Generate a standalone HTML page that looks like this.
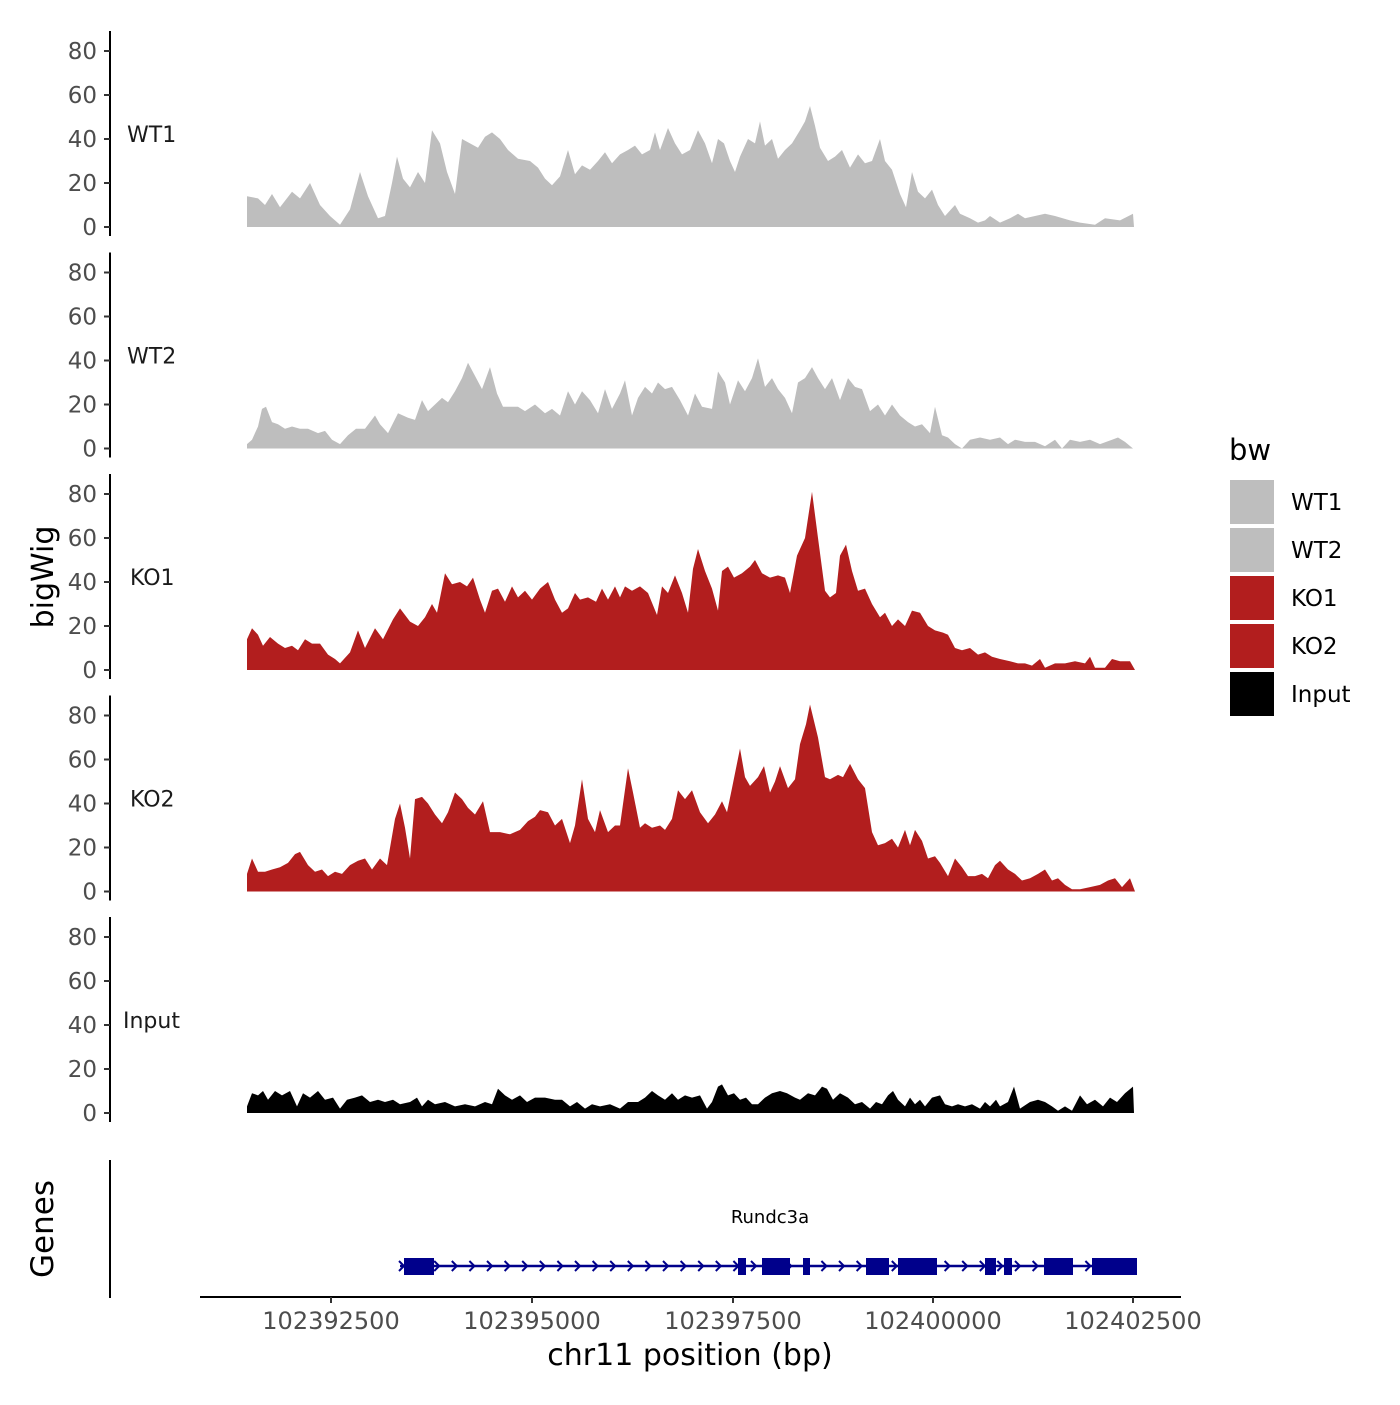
<!DOCTYPE html>
<html><head><meta charset="utf-8"><style>
body{margin:0;background:#fff}
svg text{font-family:"DejaVu Sans","Liberation Sans",sans-serif}
</style></head><body>
<svg id="s" width="1400" height="1400" xmlns="http://www.w3.org/2000/svg"></svg>
<script>
const s=document.getElementById('s');
let h='';
const data={
WT1:[[247,14],[258,13],[265,10],[272,15],[280,9],[292,16],[300,13],[310,20],[320,10],[330,5],[340,1],[350,8],[360,25],[368,14],[378,4],[385,5],[392,20],[397,32],[403,22],[410,18],[418,25],[425,20],[432,44],[440,38],[447,25],[455,15],[462,40],[470,38],[478,36],[485,41],[492,43],[500,40],[508,35],[518,31],[530,30],[538,27],[545,22],[552,19],[560,23],[568,35],[575,24],[582,28],[590,26],[598,30],[605,34],[612,29],[620,33],[628,35],[635,37],[642,33],[650,35],[655,43],[660,35],[668,45],[675,38],[682,33],[690,35],[698,44],[705,38],[712,29],[718,40],[724,38],[730,30],[735,25],[740,32],[748,40],[755,38],[760,48],[765,37],[772,40],[778,31],[785,35],[792,38],[800,44],[805,48],[810,55],[815,46],[820,36],[828,30],[835,32],[842,35],[850,27],[858,33],[865,29],[872,30],[880,40],[885,30],[892,26],[900,15],[906,9],[912,25],[918,16],[925,13],[932,17],[938,10],[945,5],[955,10],[960,6],[970,4],[978,2],[985,3],[990,5],[1000,2],[1010,4],[1018,6],[1025,4],[1035,5],[1045,6],[1055,5],[1070,3],[1080,2],[1095,1],[1105,4],[1120,3],[1133,6],[1134,0]],
WT2:[[247,2],[252,4],[258,10],[262,18],[266,19],[272,12],[278,11],[285,9],[292,10],[300,9],[308,9],[318,7],[325,8],[332,4],[340,2],[348,6],[356,9],[365,9],[375,15],[380,11],[388,7],[398,16],[408,14],[415,13],[422,22],[428,17],[435,20],[442,23],[448,21],[455,26],[462,32],[468,39],[475,33],[482,27],[490,37],[497,25],[503,19],[510,19],[518,19],[525,17],[535,20],[545,16],[552,18],[560,15],[568,26],[575,20],[582,26],[590,22],[598,16],[605,27],[612,18],[620,25],[625,31],[632,15],[638,23],[645,28],[652,25],[658,30],[665,27],[672,28],[680,22],[688,15],[695,25],[702,19],[712,18],[718,35],[725,30],[730,20],[738,31],[745,26],[752,32],[758,41],[765,28],[772,32],[778,27],[785,23],[792,16],[798,30],[805,32],[812,37],[818,32],[825,27],[832,32],[840,22],[848,32],[855,28],[862,27],[870,17],[878,20],[885,15],[892,20],[900,15],[908,12],[915,10],[922,11],[930,7],[935,19],[942,6],[948,5],[955,2],[962,0],[970,4],[980,5],[990,4],[1000,5],[1008,2],[1015,4],[1025,3],[1035,3],[1045,1],[1055,4],[1062,0],[1070,4],[1080,3],[1090,4],[1100,2],[1112,4],[1118,5],[1125,3],[1133,0]],
KO1:[[247,14],[252,19],[258,16],[263,11],[270,15],[278,12],[285,10],[292,11],[298,9],[305,14],[312,12],[320,12],[328,7],[335,5],[340,3],[350,8],[358,18],[365,10],[375,19],[383,14],[393,23],[400,28],[410,22],[418,20],[425,24],[432,30],[437,26],[445,44],[452,39],[460,40],[467,38],[473,42],[480,32],[485,26],[492,36],[498,37],[505,31],[512,38],[518,33],[525,36],[532,32],[540,37],[548,40],[555,32],[562,26],[568,28],[575,35],[580,32],[588,33],[596,31],[602,37],[608,32],[615,38],[620,33],[625,38],[632,36],[640,38],[648,35],[657,25],[662,38],[668,35],[675,43],[682,35],[688,26],[693,46],[698,55],[705,45],[712,37],[718,27],[722,45],[728,47],[734,42],[742,44],[750,47],[755,50],[762,44],[770,42],[778,43],[785,42],[790,35],[797,52],[805,60],[812,81],[818,60],[825,36],[830,33],[836,35],[840,52],[846,57],[852,45],[858,36],[865,37],[872,30],[880,24],[885,26],[892,20],[898,23],[905,20],[912,27],[920,26],[928,20],[935,18],[943,17],[948,16],[955,10],[962,9],[970,10],[978,7],[985,8],[992,6],[1000,5],[1010,4],[1018,3],[1025,3],[1032,2],[1040,5],[1045,1],[1055,3],[1065,3],[1075,4],[1085,3],[1090,6],[1095,1],[1105,1],[1112,5],[1120,4],[1130,4],[1135,0]],
KO2:[[247,8],[252,15],[258,9],[265,9],[272,10],[280,11],[288,13],[295,17],[300,18],[308,12],[315,9],[322,10],[328,7],[335,9],[342,8],[350,12],[358,14],[365,15],[372,10],[380,15],[387,12],[395,33],[400,40],[405,29],[410,15],[415,42],[422,43],[428,40],[435,35],[442,31],[448,36],[455,45],[462,42],[468,38],[475,35],[483,41],[490,27],[500,27],[510,26],[520,28],[528,32],[535,34],[540,37],[548,36],[555,30],[562,33],[570,22],[575,30],[582,51],[588,33],[595,27],[600,37],[608,27],[615,30],[620,30],[628,56],[633,45],[640,29],[645,31],[652,29],[660,30],[665,28],[672,33],[678,46],[685,42],[692,46],[700,36],[708,31],[715,35],[722,41],[727,36],[732,47],[740,65],[745,52],[750,48],[758,52],[764,57],[770,45],[775,50],[780,57],[788,47],[795,51],[800,67],[806,76],[810,85],[818,70],[825,52],[830,51],[838,53],[843,52],[850,58],[858,51],[865,47],[872,27],[878,21],[885,22],[892,24],[898,20],[905,28],[910,21],[915,28],[922,23],[928,15],[935,16],[940,13],[948,7],[955,15],[962,11],[968,7],[975,7],[982,8],[988,6],[995,12],[1000,14],[1008,10],[1015,8],[1022,5],[1030,6],[1038,8],[1045,10],[1052,5],[1058,6],[1065,3],[1072,1],[1080,1],[1090,2],[1100,3],[1108,5],[1115,6],[1122,2],[1130,6],[1135,0]],
Input:[[247,3],[252,9],[258,8],[263,10],[268,6],[275,10],[282,8],[290,10],[297,3],[303,9],[310,7],[318,10],[325,6],[333,7],[340,2],[347,6],[355,7],[362,8],[370,5],[378,6],[385,5],[393,6],[400,4],[410,5],[417,7],[422,3],[428,6],[435,4],[445,5],[455,3],[465,4],[475,3],[485,5],[492,4],[498,11],[505,8],[512,6],[520,8],[527,5],[535,7],[545,7],[555,6],[562,6],[570,3],[577,5],[585,2],[592,4],[600,3],[610,4],[620,2],[628,5],[638,5],[645,7],[652,10],[658,8],[665,6],[672,9],[678,6],[685,8],[692,7],[700,8],[707,2],[712,5],[718,12],[722,13],[728,8],[734,9],[740,6],[746,7],[752,4],[758,4],[765,7],[772,9],[780,10],[787,9],[795,7],[800,6],[808,9],[815,8],[822,12],[827,11],[833,6],[840,9],[848,7],[855,4],[862,5],[870,2],[876,5],[882,4],[888,8],[893,10],[898,6],[905,3],[910,7],[915,4],[920,6],[925,3],[932,7],[940,8],[945,4],[952,3],[958,4],[965,3],[972,4],[980,2],[985,5],[990,3],[996,6],[1000,3],[1008,5],[1014,12],[1020,2],[1030,5],[1038,6],[1045,5],[1052,3],[1058,1],[1065,3],[1072,1],[1080,8],[1087,4],[1095,6],[1103,3],[1110,7],[1117,5],[1125,9],[1133,12],[1134,0]]};
const names=['WT1','WT2','KO1','KO2','Input'];
const cols={WT1:'#bebebe',WT2:'#bebebe',KO1:'#b21e1e',KO2:'#b21e1e',Input:'#000'};
names.forEach((n,k)=>{
  const y0=227+221.5*k, sc=2.2;
  let d='M'+data[n][0][0]+','+y0;
  data[n].forEach(p=>{d+=' L'+p[0]+','+(y0-p[1]*sc).toFixed(1);});
  d+=' L'+data[n][data[n].length-1][0]+','+y0+' Z';
  h+=`<path d="${d}" fill="${cols[n]}"/>`;
  h+=`<line x1="110" y1="${y0-196}" x2="110" y2="${y0+9}" stroke="#000" stroke-width="2"/>`;
  for(let v=0;v<=80;v+=20){const yy=y0-v*sc;
    h+=`<line x1="104" y1="${yy}" x2="110" y2="${yy}" stroke="#333" stroke-width="2"/>`;
    h+=`<text x="97" y="${yy+8}" text-anchor="end" font-size="23" fill="#4d4d4d">${v}</text>`;}
  h+=`<text x="${n=='Input'?123:(n[0]=='K'?130:127)}" y="${y0-85}" font-size="22" fill="#1a1a1a">${n}</text>`;
});
h+=`<text transform="translate(53,577) rotate(-90)" text-anchor="middle" font-size="30" fill="#000">bigWig</text>`;
h+=`<text transform="translate(53,1229) rotate(-90)" text-anchor="middle" font-size="31" fill="#000">Genes</text>`;
h+=`<line x1="110" y1="1160" x2="110" y2="1298" stroke="#000" stroke-width="2"/>`;
h+=`<line x1="400" y1="1266" x2="1135" y2="1266" stroke="#00008b" stroke-width="2.5"/>`;
for(let x=402;x<1130;x+=17.6){h+=`<path d="M${x-3},${1261} L${x+2},1266 L${x-3},1271" fill="none" stroke="#00008b" stroke-width="2"/>`;}
[[404,434],[738,746],[762,790],[803,810],[866,889],[898,917],[915,937],[985,996],[1004,1012],[1044,1073],[1092,1137]].forEach(b=>{
 h+=`<rect x="${b[0]}" y="1258" width="${b[1]-b[0]}" height="17" fill="#00008b"/>`;});
h+=`<text x="770" y="1223" text-anchor="middle" font-size="18" fill="#000">Rundc3a</text>`;
h+=`<line x1="200" y1="1297" x2="1181" y2="1297" stroke="#000" stroke-width="2"/>`;
[[331,'102392500'],[532,'102395000'],[733,'102397500'],[933,'102400000'],[1133,'102402500']].forEach(t=>{
 h+=`<line x1="${t[0]}" y1="1297" x2="${t[0]}" y2="1303" stroke="#333" stroke-width="2"/>`;
 h+=`<text x="${t[0]}" y="1329" text-anchor="middle" font-size="24" fill="#4d4d4d">${t[1]}</text>`;});
h+=`<text x="690" y="1365" text-anchor="middle" font-size="30" fill="#000">chr11 position (bp)</text>`;
h+=`<text x="1229" y="460" font-size="29" fill="#000">bw</text>`;
names.forEach((n,i)=>{const y=480+48*i;
 h+=`<rect x="1230" y="${y}" width="44" height="44" fill="${cols[n]}"/>`;
 h+=`<text x="1291" y="${y+30}" font-size="23" fill="#000">${n}</text>`;});
s.innerHTML=h;
</script>
</body></html>
